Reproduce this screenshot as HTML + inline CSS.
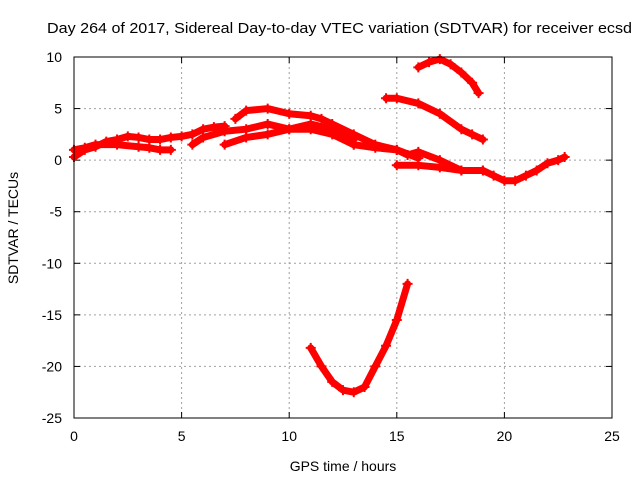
<!DOCTYPE html>
<html><head><meta charset="utf-8"><style>
body{margin:0;background:#fff}
svg text{font-family:"Liberation Sans",sans-serif;font-size:14px;fill:#000}
</style></head><body>
<svg id="chart" width="640" height="480" xmlns="http://www.w3.org/2000/svg">
<text x="47" y="33" textLength="585" lengthAdjust="spacingAndGlyphs" style="font-size:15px">Day 264 of 2017, Sidereal Day-to-day VTEC variation (SDTVAR) for receiver ecsd</text>
<text x="343" y="471" text-anchor="middle">GPS time / hours</text>
<text transform="translate(18,228) rotate(-90)" text-anchor="middle">SDTVAR / TECUs</text>
<g id="grid"></g><g id="ticks"></g><g id="series"></g>
<rect x="74" y="57" width="538" height="361" fill="none" stroke="#000" stroke-width="1"/>
</svg>
<script>
const xTicks=[0,5,10,15,20,25];
const yTicks=[10,5,0,-5,-10,-15,-20,-25];
const trackA_x=[0,0.5,1,1.5,2,2.5,3,3.5,4,4.5,5,5.5,6,6.5,7];
const trackA_y=[0.3,1,1.3,1.8,2,2.3,2.2,2,2,2.2,2.3,2.5,3,3.2,3.3];
const trackB_x=[0,0.5,1,2,3,3.5,4,4.5];
const trackB_y=[1,1.2,1.5,1.5,1.3,1.2,1,1];
const trackC_x=[5.5,6,7,8,9,10,11,12,13];
const trackC_y=[1.5,2.2,2.8,3,3.5,3,3.5,3,2];
const trackD_x=[7.5,8,9,10,11,11.5,12,13,14,15,16];
const trackD_y=[4,4.8,5,4.5,4.3,4,3.5,2.5,1.5,1,0.2];
const trackE_x=[7,8,9,10,11,12,13];
const trackE_y=[1.5,2.2,2.5,3,3,2.5,1.5];
const trackF_x=[13,14,15,15.5,16,17,18,19];
const trackF_y=[1.5,1.2,1,0.5,0.8,0,-1,-1];
const trackG_x=[15,16,17,18,19,19.5,20,20.5,21,21.5,22,22.5,22.8];
const trackG_y=[-0.5,-0.5,-0.7,-1,-1,-1.5,-2,-2,-1.5,-1,-0.3,0,0.3];
const trackH_x=[14.5,15,16,17,18,18.5,19];
const trackH_y=[6,6,5.5,4.5,3,2.5,2];
const trackI_x=[16,16.5,17,17.5,18,18.5,18.8];
const trackI_y=[9,9.5,9.8,9.3,8.5,7.5,6.5];
const trackJ_x=[11,11.5,12,12.5,13,13.5,14,14.5,15,15.5];
const trackJ_y=[-18.2,-20,-21.5,-22.3,-22.5,-22,-20,-18,-15.5,-12];
const tracks=[[trackA_x,trackA_y],[trackB_x,trackB_y],[trackC_x,trackC_y],[trackD_x,trackD_y],[trackE_x,trackE_y],[trackF_x,trackF_y],[trackG_x,trackG_y],[trackH_x,trackH_y],[trackI_x,trackI_y],[trackJ_x,trackJ_y]];
const NS="http://www.w3.org/2000/svg";
const X0=74,X1=612,Y0=418,Y1=57;
function sx(v){return X0+(v-0)/(25-0)*(X1-X0);}
function sy(v){return Y0-(v+25)/(35)*(Y0-Y1);}
function mk(tag,attrs,parent){const e=document.createElementNS(NS,tag);for(const k in attrs)e.setAttribute(k,attrs[k]);parent.appendChild(e);return e;}
const grid=document.getElementById('grid'),ticks=document.getElementById('ticks'),ser=document.getElementById('series');
xTicks.forEach(t=>{const x=sx(t);
 if(t>0&&t<25){const g=mk('line',{x1:x,x2:x,y1:Y1,y2:Y0,stroke:'#a0a0a0','stroke-dasharray':'2,3'},grid);
 
 }
 mk('line',{x1:x,x2:x,y1:Y0,y2:Y0-6,stroke:'#000'},ticks);
 mk('line',{x1:x,x2:x,y1:Y1,y2:Y1+6,stroke:'#000'},ticks);
 const l=mk('text',{x:x,y:Y0+23,'text-anchor':'middle'},ticks);l.textContent=t;
 
 });
yTicks.forEach(t=>{const y=sy(t);
 if(t>-25&&t<10){const g=mk('line',{x1:X0,x2:X1,y1:y,y2:y,stroke:'#a0a0a0','stroke-dasharray':'2,3'},grid);
 
 }
 mk('line',{x1:X0,x2:X0+6,y1:y,y2:y,stroke:'#000'},ticks);
 mk('line',{x1:X1,x2:X1-6,y1:y,y2:y,stroke:'#000'},ticks);
 const l=mk('text',{x:X0-12,y:y+5,'text-anchor':'end'},ticks);l.textContent=t;
 
 });
tracks.forEach((tr,i)=>{const pts=tr[0].map((x,j)=>sx(x)+','+sy(tr[1][j])).join(' ');
 const p=mk('polyline',{points:pts,fill:'none',stroke:'#ff0000','stroke-width':7,'stroke-linejoin':'round','stroke-linecap':'round'},ser);
 
 
 tr[0].forEach((x,j)=>{const cx=sx(x),cy=sy(tr[1][j]);
  mk('path',{d:`M${cx-5},${cy}h10M${cx},${cy-5}v10`,stroke:'#ff0000','stroke-width':2},ser);});});
</script>
</body></html>
